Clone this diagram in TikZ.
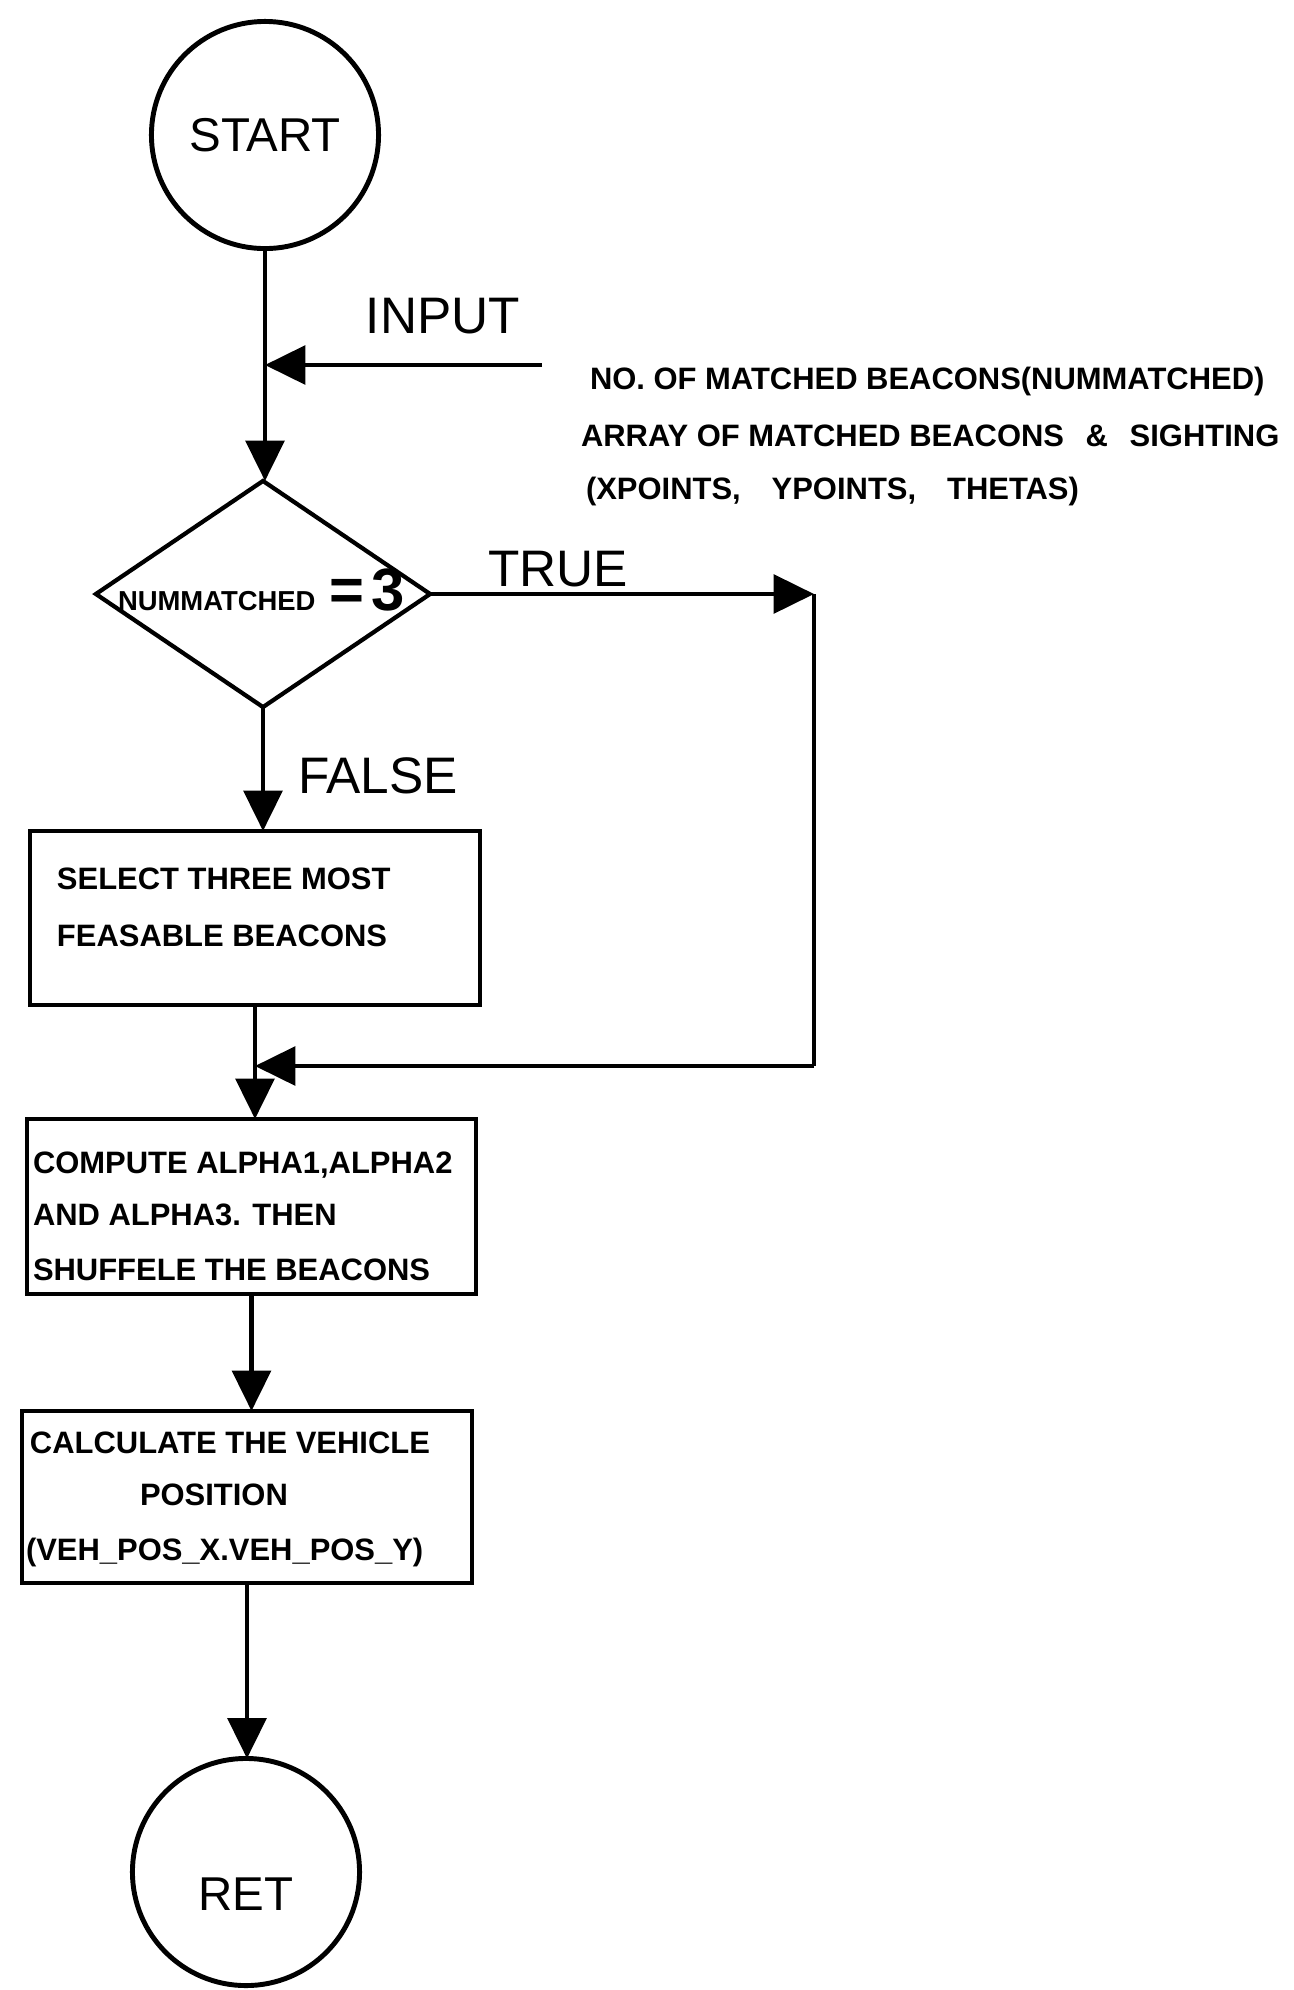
\documentclass[tikz,border=0pt]{standalone}
\usepackage{fontspec}
\setmainfont{Liberation Sans}
\usetikzlibrary{shapes.geometric,arrows.meta}
\begin{document}
\begin{tikzpicture}[x=0.01cm,y=-0.01cm,
  every node/.style={inner sep=0pt, outer sep=0pt},
  line/.style={line width=1.2pt, line join=round},
  arr/.style={line, -{Triangle[length=11.5pt,width=11pt]}},
  terminal/.style={circle, draw, line width=1.4pt, minimum size=2.27cm,
    font=\fontsize{13.5}{14}\selectfont},
  decision/.style={diamond, draw, line width=1.2pt,
    minimum width=3.34cm, minimum height=2.26cm},
  procbox/.style={rectangle, draw, line width=1.2pt},
  biglabel/.style={font=\fontsize{14.6}{15}\selectfont},
  smalltext/.style={font=\fontsize{8.8}{10}\selectfont\bfseries, anchor=base west},
]
\useasboundingbox[fill=white] (0,0) rectangle (1294,1990);

% terminals, decision and process boxes
\node[terminal] (start) at (265,135) {START};
\node[decision] (dec) at (263,594) {};
\node[font=\fontsize{7.8}{8}\selectfont\bfseries, anchor=base west] (dectext)
  at (118,610) {NUMMATCHED\hspace{0.5em}{\fontsize{17}{17}\selectfont =\hspace{0.12em}3}};
\node[procbox, minimum width=4.5cm, minimum height=1.74cm] (box1) at (255,918) {};
\node[procbox, minimum width=4.49cm, minimum height=1.75cm] (box2) at (251.5,1206.5) {};
\node[procbox, minimum width=4.5cm, minimum height=1.72cm] (box3) at (247,1497) {};
\node[terminal] (ret) at (246,1872) {\vphantom{RET}\smash{\raisebox{-6.3pt}{RET}}};

% box contents
\node[smalltext] (b1a) at (57,889) {SELECT THREE MOST};
\node[smalltext] (b1b) at (57,946) {FEASABLE BEACONS};
\node[smalltext] (b2a) at (33,1173) {COMPUTE ALPHA1,ALPHA2};
\node[smalltext] (b2b) at (33,1225) {AND ALPHA3. THEN};
\node[smalltext] (b2c) at (33,1280) {SHUFFELE THE BEACONS};
\node[smalltext] (b3a) at (30,1453) {CALCULATE THE VEHICLE};
\node[smalltext] (b3b) at (140,1505) {POSITION};
\node[smalltext] (b3c) at (26,1560) {(VEH\_POS\_X.VEH\_POS\_Y)};

% labels
\node[biglabel] (input) at (443,316) {INPUT};
\node[biglabel] (true) at (558,569) {TRUE};
\node[biglabel] (false) at (378,776) {FALSE};
\node[smalltext] (in1) at (590,389) {NO. OF MATCHED BEACONS(NUMMATCHED)};
\node[smalltext] (in2) at (581,446) {ARRAY OF MATCHED BEACONS\hspace{0.7em}\&\hspace{0.7em}SIGHTING};
\node[smalltext] (in3) at (586,499) {(XPOINTS,\hspace{1em}YPOINTS,\hspace{1em}THETAS)};

% connectors
\draw[arr] (start.south) -- (start.south |- dec.north);
\coordinate (inpfrom) at (542,365);
\draw[arr] (inpfrom) -- (inpfrom -| start.south);
\draw[arr] (dec.south) -- (dec.south |- box1.north);
\coordinate (tc) at (814,594);
\coordinate (tb) at (814,1066);
\coordinate (merge) at (box1.south |- tb);
\draw[arr] (dec.east) -- (tc);
\draw[line] (tc) -- (tb);
\draw[arr] (tb) -- (merge);
\draw[arr] (box1.south) -- (box1.south |- box2.north);
\draw[arr] (box2.south) -- (box2.south |- box3.north);
\draw[arr] (box3.south) -- (box3.south |- ret.north);
\end{tikzpicture}
\end{document}
